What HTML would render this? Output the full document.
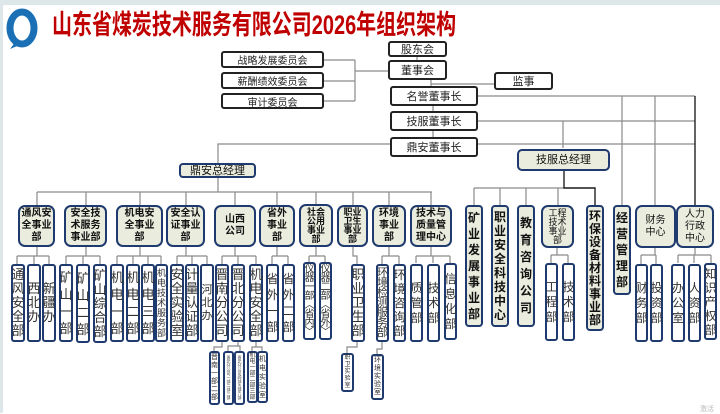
<!DOCTYPE html>
<html><head><meta charset="utf-8"><style>
*{box-sizing:border-box;margin:0;padding:0}
body{width:720px;height:413px;position:relative;overflow:hidden;background:#fff;font-family:"Liberation Sans","Noto Sans CJK SC",sans-serif}
.a{position:absolute;display:flex;align-items:center;justify-content:center;text-align:center}
.t{background:#fff;border:2px solid #222;border-radius:3px;font-size:11px;color:#222}
.g{background:#eaedde;border:2px solid #1f3a6e;border-radius:7px;font-size:10px;font-weight:bold;line-height:12px;color:#111}
.v{background:#fff;border:2px solid #1f3a6e;border-radius:3px;font-size:13px;line-height:14px;color:#333}
.vb{background:#eaedde;border:2px solid #1f3a6e;border-radius:4px;font-size:12px;font-weight:bold;line-height:16px;color:#111}
.v span,.vb span{display:block;width:1em;word-break:break-all;line-break:anywhere;text-align:center}
</style></head><body>
<div style="position:absolute;left:0;top:0;width:720px;height:5px;background:#dde7ea"></div>
<div style="position:absolute;left:0;top:0;width:3px;height:413px;background:#dde7ea"></div>
<svg style="position:absolute;left:6px;top:7px" width="32" height="42" viewBox="0 0 32 42"><ellipse cx="16" cy="21" rx="12" ry="16" fill="none" stroke="#1a6fb5" stroke-width="7"/><path d="M10 34 L4 42 L16 37Z" fill="#1a6fb5"/></svg>
<div style="position:absolute;left:52px;top:8px;font-size:27px;font-weight:bold;color:#c00000;white-space:nowrap;transform:scaleX(0.74);transform-origin:0 0;line-height:34px">山东省煤炭技术服务有限公司2026年组织架构</div>

<svg style="position:absolute;left:0;top:0" width="720" height="413">
<g fill="none" stroke="#8a8a8a" stroke-width="1.2">
<path d="M417 56V60M324 60H355M324 81H355M324 101H355M355 60V101M355 71H388M431 80V86M431 84H494M433 106V111M433 131V137"/>
<path d="M478 96H695M622 96V205M655 96V205M478 121H695M563 121V148M478 144H695M390 144H218V163M218 177V192"/>
<path d="M37 192H432M37 192V205M86 192V205M140 192V205M186 192V205M235 192V205M277 192V205M316 192V205M353 192V205M389 192V205M431 192V205"/>
<path d="M474 188H595M474 188V205M500 188V205M526 188V205M558 188V205"/>
<path d="M37 247V256M17 256H49M17 256V264M34 256V264M49 256V264"/>
<path d="M86 247V256M66 256H100M66 256V264M83 256V264M100 256V264"/>
<path d="M140 247V256M117 256H161M117 256V264M133 256V264M148 256V264M161 256V264"/>
<path d="M186 247V256M177 256H207M177 256V264M192 256V264M207 256V264"/>
<path d="M235 247V256M222 256H256M222 256V264M238 256V264M256 256V264"/>
<path d="M277 247V256M272 256H288M272 256V264M288 256V264"/>
<path d="M316 247V256M309 256H325M309 256V262M325 256V262"/>
<path d="M353 247V256H357V264"/>
<path d="M389 247V256M382 256H399M382 256V264M399 256V264"/>
<path d="M431 247V256M416 256H450M416 256V263M433 256V263M450 256V263"/>
<path d="M557 248V255M551 255H568M551 255V263M568 255V263"/>
<path d="M655 248V255M641 255H656M641 255V264M656 255V264"/>
<path d="M695 248V255M678 255H711M678 255V263M694 255V263M711 255V263"/>
<path d="M222 342V347H214V351M238 342V346H228V351M238 346H240V351M256 342V347H252V351M252 347H262V351M357 342V347H347V353M382 342V349H377V354"/>
</g>
<g fill="none" stroke="#222" stroke-width="1.4"><path d="M564 170V188H595V205M695 96V205"/></g>
</svg>

<div class="a t" style="left:388px;top:41px;width:59px;height:16px">股东会</div>
<div class="a t" style="left:388px;top:60px;width:59px;height:20px">董事会</div>
<div class="a t" style="left:494px;top:72px;width:59px;height:18px">监事</div>
<div class="a t" style="left:390px;top:86px;width:88px;height:20px">名誉董事长</div>
<div class="a t" style="left:390px;top:111px;width:88px;height:20px">技服董事长</div>
<div class="a t" style="left:390px;top:137px;width:88px;height:20px">鼎安董事长</div>
<div class="a t" style="left:221px;top:51px;width:103px;height:17px;font-size:10px">战略发展委员会</div>
<div class="a t" style="left:221px;top:72px;width:103px;height:17px;font-size:10px">薪酬绩效委员会</div>
<div class="a t" style="left:221px;top:93px;width:103px;height:16px;font-size:10px">审计委员会</div>

<div class="a g" style="left:179px;top:163px;width:77px;height:15px;font-weight:normal;font-size:11px;border-radius:4px">鼎安总经理</div>
<div class="a g" style="left:517px;top:149px;width:93px;height:22px;font-weight:normal;font-size:11px;border-radius:5px">技服总经理</div>

<div class="a g" style="left:18px;top:205px;width:37px;height:42px">通风安<br>全事业<br>部</div>
<div class="a g" style="left:64px;top:205px;width:43px;height:42px">安全技<br>术服务<br>事业部</div>
<div class="a g" style="left:116px;top:205px;width:47px;height:42px">机电安<br>全事业<br>部</div>
<div class="a g" style="left:166px;top:205px;width:39px;height:42px">安全认<br>证事业<br>部</div>
<div class="a g" style="left:214px;top:205px;width:42px;height:42px">山西<br>公司</div>
<div class="a g" style="left:259px;top:205px;width:36px;height:42px">省外<br>事业<br>部</div>
<div class="a g" style="left:299px;top:204px;width:34px;height:43px;font-size:9px;line-height:9px">社会<br>公用<br>事业<br>部</div>
<div class="a g" style="left:337px;top:205px;width:31px;height:42px;font-size:9px;line-height:9px">职业<br>卫生<br>事业<br>部</div>
<div class="a g" style="left:372px;top:205px;width:34px;height:42px">环境<br>事业<br>部</div>
<div class="a g" style="left:410px;top:205px;width:42px;height:42px">技术与<br>质量管<br>理中心</div>

<div class="a vb" style="left:465px;top:205px;width:18px;height:122px"><span>矿业发展事业部</span></div>
<div class="a vb" style="left:491px;top:205px;width:18px;height:122px;line-height:14px"><span>职业安全科技中心</span></div>
<div class="a vb" style="left:517px;top:205px;width:18px;height:122px;line-height:17px"><span>教育咨询公司</span></div>
<div class="a g" style="left:541px;top:205px;width:33px;height:43px;font-size:9px;line-height:9px;font-weight:normal">工程<br>技术<br>事业<br>部</div>
<div class="a vb" style="left:586px;top:205px;width:18px;height:126px;line-height:13px"><span>环保设备材料事业部</span></div>
<div class="a vb" style="left:613px;top:205px;width:18px;height:90px"><span>经营管理部</span></div>
<div class="a g" style="left:635px;top:205px;width:41px;height:43px;font-weight:normal">财务<br>中心</div>
<div class="a g" style="left:676px;top:205px;width:38px;height:43px;font-weight:normal">人力<br>行政<br>中心</div>

<div class="a v" style="left:11px;top:264px;width:14px;height:78px"><span>通风安全部</span></div>
<div class="a v" style="left:27px;top:264px;width:14px;height:78px"><span>西北办</span></div>
<div class="a v" style="left:42px;top:264px;width:14px;height:78px"><span>新疆办</span></div>
<div class="a v" style="left:59px;top:264px;width:14px;height:78px;line-height:17px"><span>矿山一部</span></div>
<div class="a v" style="left:76px;top:264px;width:14px;height:79px;line-height:17px"><span>矿山二部</span></div>
<div class="a v" style="left:93px;top:264px;width:14px;height:79px"><span>矿山综合部</span></div>
<div class="a v" style="left:110px;top:264px;width:14px;height:78px;line-height:17px"><span>机电一部</span></div>
<div class="a v" style="left:126px;top:264px;width:14px;height:78px;line-height:17px"><span>机电二部</span></div>
<div class="a v" style="left:141px;top:264px;width:14px;height:78px;line-height:17px"><span>机电三部</span></div>
<div class="a v" style="left:155px;top:264px;width:13px;height:78px;font-size:9px;line-height:10px"><span>机电技术服务部</span></div>
<div class="a v" style="left:170px;top:264px;width:14px;height:78px"><span>安全实验室</span></div>
<div class="a v" style="left:185px;top:264px;width:14px;height:78px"><span>计量认证部</span></div>
<div class="a v" style="left:200px;top:264px;width:14px;height:78px;font-size:11px;line-height:13px"><span>河北办</span></div>
<div class="a v" style="left:215px;top:264px;width:14px;height:78px"><span>晋南分公司</span></div>
<div class="a v" style="left:231px;top:264px;width:14px;height:78px"><span>晋北分公司</span></div>
<div class="a v" style="left:249px;top:264px;width:14px;height:78px"><span>机电安全部</span></div>
<div class="a v" style="left:266px;top:264px;width:13px;height:78px;font-size:12px;line-height:16px"><span>省外一部</span></div>
<div class="a v" style="left:282px;top:264px;width:13px;height:78px;font-size:12px;line-height:16px"><span>省外二部</span></div>
<div class="a v" style="left:303px;top:262px;width:13px;height:78px;font-size:10px;line-height:9px"><span>仪器一部︿省内﹀</span></div>
<div class="a v" style="left:319px;top:262px;width:13px;height:78px;font-size:10px;line-height:9px"><span>仪器二部︿省外﹀</span></div>
<div class="a v" style="left:351px;top:264px;width:14px;height:78px"><span>职业卫生部</span></div>
<div class="a v" style="left:376px;top:264px;width:13px;height:78px;font-size:11px;line-height:10px"><span>环境检测服务部</span></div>
<div class="a v" style="left:393px;top:264px;width:13px;height:78px;font-size:12px"><span>环境咨询部</span></div>
<div class="a v" style="left:410px;top:264px;width:13px;height:78px;font-size:12px;line-height:15px"><span>质管部</span></div>
<div class="a v" style="left:427px;top:264px;width:13px;height:78px;font-size:12px;line-height:15px"><span>技术部</span></div>
<div class="a v" style="left:444px;top:263px;width:13px;height:77px;font-size:12px;line-height:15px"><span>信息化部</span></div>
<div class="a v" style="left:545px;top:263px;width:13px;height:78px;font-size:12px;line-height:15px"><span>工程部</span></div>
<div class="a v" style="left:562px;top:263px;width:13px;height:78px;font-size:12px;line-height:15px"><span>技术部</span></div>
<div class="a v" style="left:635px;top:264px;width:13px;height:78px;font-size:12px;line-height:15px"><span>财务部</span></div>
<div class="a v" style="left:650px;top:264px;width:13px;height:78px;font-size:12px;line-height:15px"><span>投资部</span></div>
<div class="a v" style="left:671px;top:264px;width:14px;height:78px;font-size:12px;line-height:15px"><span>办公室</span></div>
<div class="a v" style="left:688px;top:264px;width:13px;height:78px;font-size:12px;line-height:15px"><span>人资部</span></div>
<div class="a v" style="left:704px;top:263px;width:13px;height:77px;font-size:12px;line-height:14px"><span>知识产权部</span></div>

<div class="a v" style="left:209px;top:351px;width:11px;height:54px;font-size:7px;line-height:8px"><span>晋南一部二部</span></div>
<div class="a v" style="left:223px;top:351px;width:11px;height:54px;font-size:4px;line-height:4px"><span>晋北分公司一部二部三部</span></div>
<div class="a v" style="left:234px;top:351px;width:11px;height:54px;font-size:4px;line-height:4px"><span>晋北分公司四部五部六部</span></div>
<div class="a v" style="left:247px;top:351px;width:11px;height:52px;font-size:6px;line-height:6px"><span>机电一部二部三部</span></div>
<div class="a v" style="left:257px;top:351px;width:11px;height:52px;font-size:7px;line-height:9px"><span>机电实验室</span></div>
<div class="a v" style="left:341px;top:353px;width:13px;height:39px;font-size:6px;line-height:7px"><span>职卫实验室</span></div>
<div class="a v" style="left:371px;top:354px;width:13px;height:46px;font-size:7px;line-height:8px"><span>环境实验室</span></div>
<div style="position:absolute;left:700px;top:404px;font-size:7px;color:#bbb">激活</div>
</body></html>
